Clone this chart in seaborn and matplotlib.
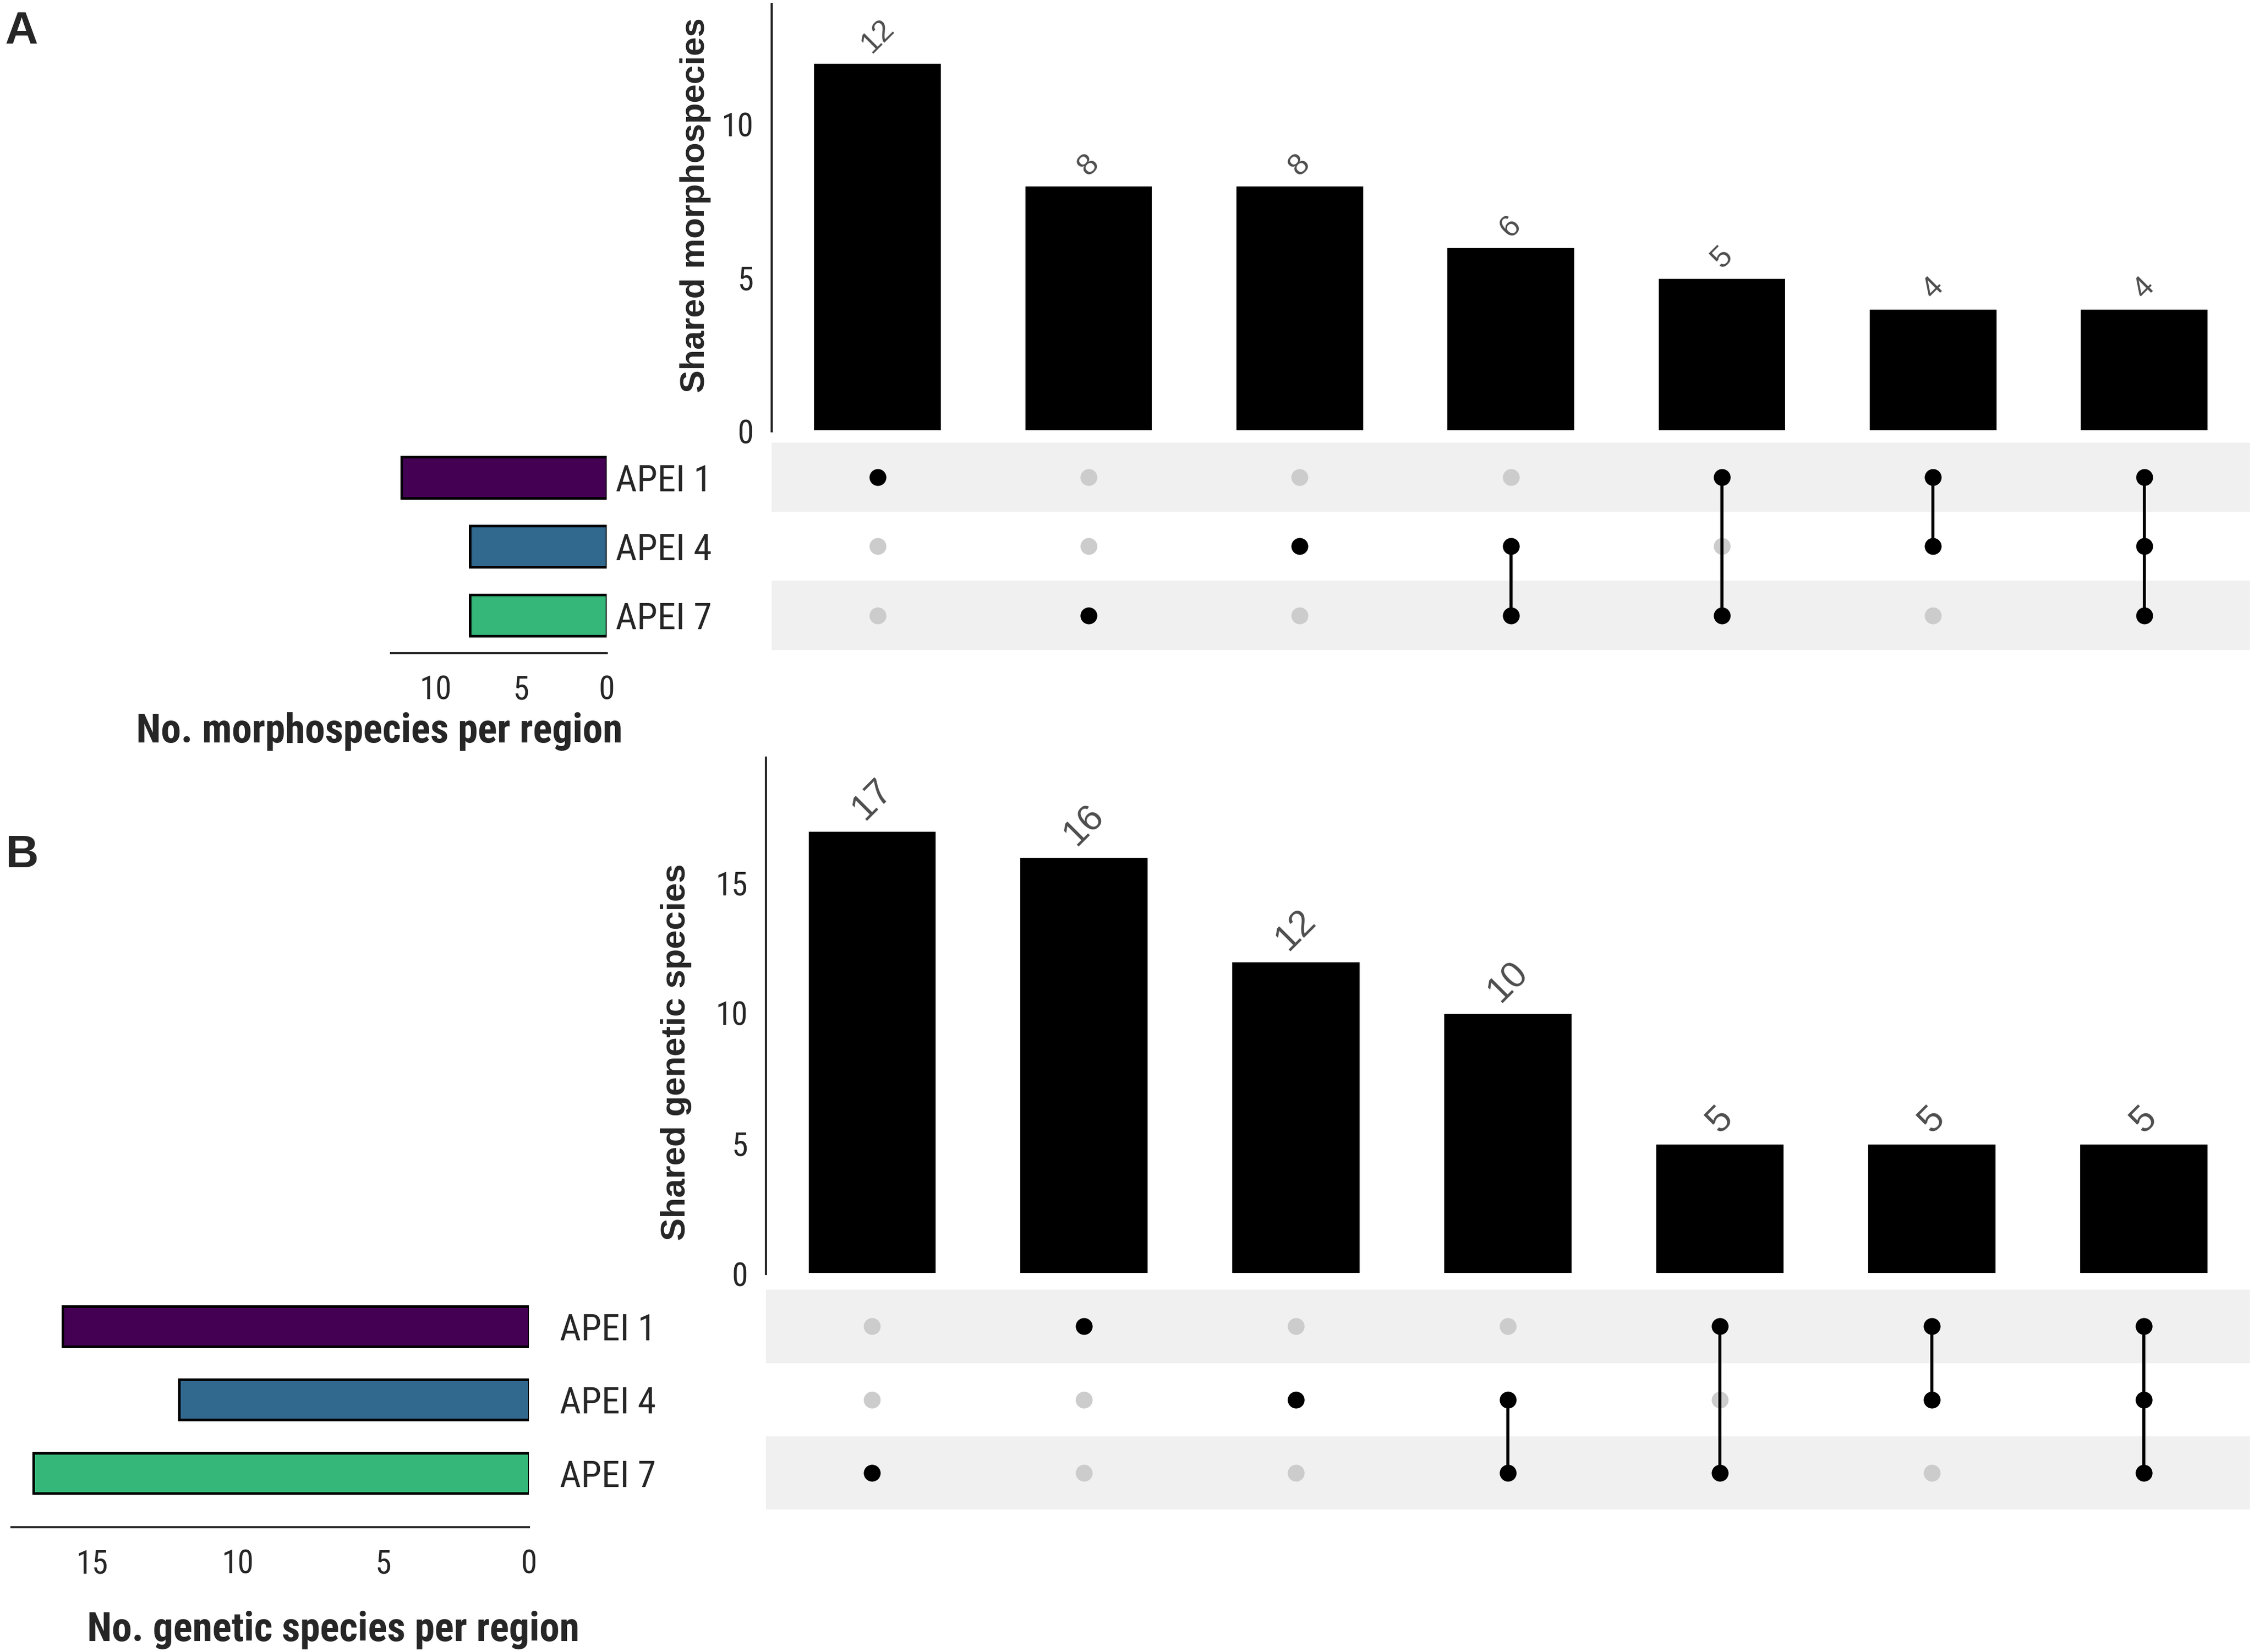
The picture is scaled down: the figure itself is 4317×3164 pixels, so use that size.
import numpy as np
import pandas as pd
import seaborn as sns
import matplotlib.pyplot as plt
from matplotlib import font_manager

# region names and colours
regions = ['APEI 1', 'APEI 4', 'APEI 7']
region_colors = ['#440154', '#31688e', '#35b779']

# panel A: morphospecies
a_counts = [12, 8, 8, 6, 5, 4, 4]
a_members = [['APEI 1'], ['APEI 7'], ['APEI 4'], ['APEI 4', 'APEI 7'],
             ['APEI 1', 'APEI 7'], ['APEI 1', 'APEI 4'], ['APEI 1', 'APEI 4', 'APEI 7']]
a_region_sizes = [12, 8, 8]
a_count_ticks = [0, 5, 10]
a_size_ticks = [0, 5, 10]

# panel B: genetic species
b_counts = [17, 16, 12, 10, 5, 5, 5]
b_members = [['APEI 7'], ['APEI 1'], ['APEI 4'], ['APEI 4', 'APEI 7'],
             ['APEI 1', 'APEI 7'], ['APEI 1', 'APEI 4'], ['APEI 1', 'APEI 4', 'APEI 7']]
b_region_sizes = [16, 12, 17]
b_count_ticks = [0, 5, 10, 15]
b_size_ticks = [0, 5, 10, 15]

sns.set_style('white')
avail = {f.name for f in font_manager.fontManager.ttflist}
narrow = next((f for f in ['Liberation Sans Narrow', 'Roboto Condensed', 'Liberation Sans']
               if f in avail), 'DejaVu Sans')
wide = 'Liberation Sans' if 'Liberation Sans' in avail else 'DejaVu Sans'
plt.rcParams['font.family'] = [narrow, 'DejaVu Sans']
plt.rcParams['axes.linewidth'] = 1.0

W, H = 1568, 1149  # layout measured on the reduced reference


def box(x0, x1, ytop, ybot):
    return [x0 / W, 1 - ybot / H, (x1 - x0) / W, (ybot - ytop) / H]


def upset(fig, counts, members, region_sizes, lay, ylabel, xlabel, ytop, xmax,
          count_ticks, size_ticks, label_size, name_pad, hbar_h, spine_off,
          ylab_xy, xlab_xy):
    # intersection bars
    ax = fig.add_axes(box(*lay['bars']))
    sns.barplot(x=list(range(len(counts))), y=counts, color='black', width=0.61,
                saturation=1, ax=ax)
    ax.bar_label(ax.containers[0], rotation=45, padding=2, color='#4d4d4d',
                 fontsize=label_size, family=wide)
    ax.set_xlim(-0.5, len(counts) - 0.5)
    ax.set_ylim(0, ytop)
    sns.despine(ax=ax, bottom=True)
    ax.set_xticks([])
    ax.set_yticks(count_ticks)
    ax.tick_params(axis='y', length=5, width=1, labelsize=15, direction='out')
    ax.set_ylabel(ylabel, fontsize=15.6, fontweight='bold', family=wide)
    ax.yaxis.set_label_coords(*ylab_xy)

    # membership matrix
    mx = fig.add_axes(box(*lay['matrix']))
    rows = []
    for i, m in enumerate(members):
        for j, r in enumerate(regions):
            rows.append({'col': i, 'row': j, 'on': r in m})
    dots = pd.DataFrame(rows)
    for j in range(len(regions)):
        if j % 2 == 0:
            mx.axhspan(j - 0.5, j + 0.5, color='#f0f0f0', zorder=0, lw=0)
    sns.scatterplot(data=dots[~dots['on']], x='col', y='row', color='#cccccc',
                    s=60, linewidth=0, ax=mx, zorder=2)
    on = dots[dots['on']]
    seg = on.groupby('col')['row'].agg(['min', 'max']).reset_index()
    mx.vlines(seg['col'], seg['min'], seg['max'], color='black', lw=1.4, zorder=3)
    sns.scatterplot(data=on, x='col', y='row', color='black', s=60, linewidth=0,
                    ax=mx, zorder=4)
    mx.set_xlim(-0.5, len(counts) - 0.5)
    mx.set_ylim(len(regions) - 0.5, -0.5)
    mx.axis('off')

    # region sizes
    sx = fig.add_axes(box(*lay['sizes']))
    sdf = pd.DataFrame({'region': regions, 'n': region_sizes})
    sns.barplot(data=sdf, x='n', y='region', hue='region', palette=region_colors,
                orient='h', width=hbar_h, edgecolor='black', linewidth=1.2,
                saturation=1, legend=False, ax=sx)
    sx.set_xlim(xmax, 0)
    sx.set_ylim(len(regions) - 0.5, -0.5)
    sns.despine(ax=sx, left=True)
    sx.spines['bottom'].set_position(('outward', spine_off))
    sx.yaxis.tick_right()
    sx.tick_params(axis='y', length=0, pad=name_pad, labelsize=17)
    sx.tick_params(axis='x', length=5, width=1, labelsize=15, pad=5)
    sx.set_xticks(size_ticks)
    sx.set_ylabel('')
    sx.set_xlabel(xlabel, fontsize=18.5, fontweight='bold')
    sx.xaxis.set_label_coords(*xlab_xy)


fig = plt.figure(figsize=(4317 / 300, 3164 / 300), dpi=300)

upset(fig, a_counts, a_members, a_region_sizes,
      {'bars': (537, 1565, 3, 300), 'matrix': (537, 1565, 308, 452),
       'sizes': (272, 422, 308, 452)},
      'Shared morphospecies', 'No. morphospecies per region', 13.9, 12.6,
      a_count_ticks, a_size_ticks, 14, 4, 0.6, 1.5,
      (-0.041, 0.53), (-0.053, -0.30))

upset(fig, b_counts, b_members, b_region_sizes,
      {'bars': (533, 1565, 527, 886), 'matrix': (533, 1565, 897, 1050),
       'sizes': (8, 368, 897, 1050)},
      'Shared genetic species', 'No. genetic species per region', 19.8, 17.76,
      b_count_ticks, b_size_ticks, 17, 14, 0.55, 8,
      (-0.050, 0.43), (0.622, -0.46))

fig.text(15 / W, 1 - 22 / H, 'A', fontsize=21, fontweight='bold', family=wide,
         va='center', ha='center')
fig.text(15 / W, 1 - 595 / H, 'B', fontsize=21, fontweight='bold', family=wide,
         va='center', ha='center')

fig.savefig('out.png', dpi=300)
